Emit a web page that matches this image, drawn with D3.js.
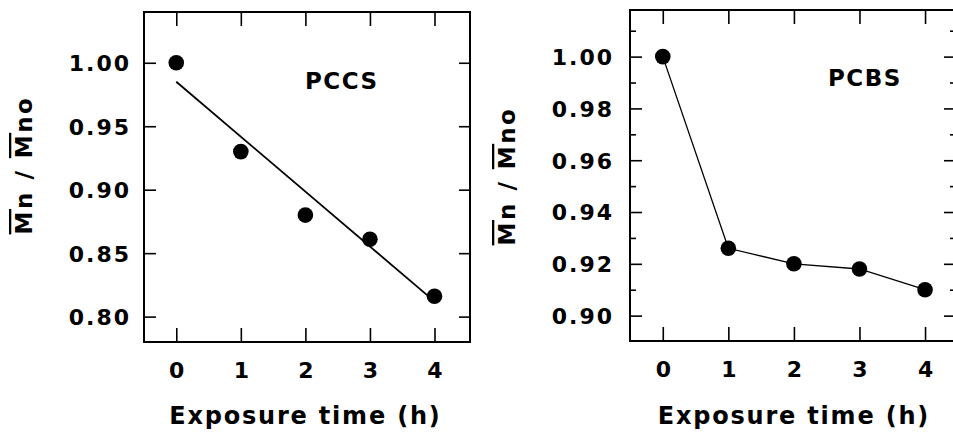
<!DOCTYPE html>
<html>
<head>
    <meta charset="utf-8">
    <title>Mn/Mno vs exposure time</title>
    <script src="https://cdn.jsdelivr.net/npm/d3@7"></script>
    <style>
        body { margin: 0; background: #fff; }
        text { font-family: "DejaVu Sans", sans-serif; font-weight: bold; fill: #000; }
    </style>
</head>
<body>
<svg id="drawingplace" width="953" height="438"></svg>
<script>
    // data
    let hours = [0, 1, 2, 3, 4]
    let pccsValues = [1.000, 0.930, 0.880, 0.861, 0.816]
    let pccsFitHours = [0, 4]
    let pccsFitValues = [0.985, 0.812]
    let pcbsValues = [1.000, 0.926, 0.920, 0.918, 0.910]
    let pccsTicks = [0.80, 0.85, 0.90, 0.95, 1.00]
    let pcbsTicks = [0.90, 0.92, 0.94, 0.96, 0.98, 1.00]
    let pcbsMinorTicks = [0.91, 0.93, 0.95, 0.97, 0.99, 1.01]

    let svg = d3.select("#drawingplace")

    function drawPanel(p) {
        let x = d3.scaleLinear().domain(p.xDomain).range([p.left, p.right])
        let y = d3.scaleLinear().domain(p.yDomain).range([p.bottom, p.top])
        let g = svg.append("g")

        // frame
        g.append("rect")
            .attr("x", p.left).attr("y", p.top)
            .attr("width", p.right - p.left).attr("height", p.bottom - p.top)
            .attr("fill", "none").attr("stroke", "#000").attr("stroke-width", 2)

        // minor y ticks (left and right, pointing in)
        if (p.minor) {
            g.append("g").attr("transform", `translate(${p.left},0)`)
                .call(d3.axisLeft(y).tickValues(p.minor).tickSize(-6).tickFormat(""))
                .call(a => a.select(".domain").remove())
            g.append("g").attr("transform", `translate(${p.right},0)`)
                .call(d3.axisRight(y).tickValues(p.minor).tickSize(-5).tickFormat(""))
                .call(a => a.select(".domain").remove())
        }

        // major y ticks with labels
        g.append("g").attr("class", "yaxis").attr("transform", `translate(${p.left},0)`)
            .call(d3.axisLeft(y).tickValues(p.yTicks).tickSize(-12).tickPadding(p.yPad)
                .tickFormat(d3.format(".2f")))
            .call(a => a.select(".domain").remove())
        g.append("g").attr("transform", `translate(${p.right},0)`)
            .call(d3.axisRight(y).tickValues(p.yTicks).tickSize(-11).tickFormat(""))
            .call(a => a.select(".domain").remove())

        // x ticks bottom with labels, top without
        g.append("g").attr("class", "xaxis").attr("transform", `translate(0,${p.bottom})`)
            .call(d3.axisBottom(x).tickValues(hours).tickSize(-14).tickPadding(20).tickFormat(d3.format("d")))
            .call(a => a.select(".domain").remove())
        g.append("g").attr("transform", `translate(0,${p.top})`)
            .call(d3.axisTop(x).tickValues(hours).tickSize(-14).tickFormat(""))
            .call(a => a.select(".domain").remove())

        g.selectAll(".tick line").attr("stroke", "#000").attr("stroke-width", 1.6)
        g.selectAll(".tick text")
            .attr("font-family", "DejaVu Sans").attr("font-weight", "bold")
            .attr("font-size", 22).attr("fill", "#000")
        g.selectAll(".yaxis .tick text").attr("dy", "0.36em").attr("letter-spacing", 2)

        // lines
        let line = d3.line().x(d => x(d[0])).y(d => y(d[1]))
        g.append("path")
            .datum(p.lineHours.map((h, i) => [h, p.lineValues[i]]))
            .attr("d", line)
            .attr("fill", "none").attr("stroke", "#000").attr("stroke-width", p.lineWidth)

        // markers
        g.selectAll("circle.pt")
            .data(hours.map((h, i) => [h, p.values[i]]))
            .enter().append("circle")
            .attr("class", "pt")
            .attr("cx", d => x(d[0])).attr("cy", d => y(d[1]))
            .attr("r", 7.8).attr("fill", "#000")

        // sample name
        g.append("text")
            .attr("x", p.nameX).attr("y", p.nameY)
            .attr("font-size", 23).attr("letter-spacing", 1.5)
            .text(p.name)

        // x label
        g.append("text")
            .attr("x", (x(0) + x(4)) / 2).attr("y", 424)
            .attr("text-anchor", "middle")
            .attr("font-size", 24).attr("letter-spacing", 1.8)
            .text("Exposure time (h)")

        // y label with overlines
        let yl = g.append("text")
            .attr("transform", `translate(${p.yLabelX},${p.yLabelY}) rotate(-90)`)
            .attr("text-anchor", "middle")
            .attr("font-size", 23).attr("letter-spacing", 2.5)
        yl.append("tspan").attr("text-decoration", "overline").text("M")
        yl.append("tspan").text("n / ")
        yl.append("tspan").attr("text-decoration", "overline").text("M")
        yl.append("tspan").text("no")
    }

    drawPanel({
        left: 144, right: 470, top: 12, bottom: 342,
        xDomain: [-0.5, 4.55], yDomain: [0.78, 1.04],
        yTicks: pccsTicks, minor: null, yPad: 13,
        values: pccsValues, lineHours: pccsFitHours, lineValues: pccsFitValues, lineWidth: 1.8,
        name: "PCCS", nameX: 305, nameY: 89,
        yLabelX: 32, yLabelY: 165
    })

    drawPanel({
        left: 630, right: 955, top: 10, bottom: 341,
        xDomain: [-0.5, 4.457], yDomain: [0.8902, 1.018],
        yTicks: pcbsTicks, minor: pcbsMinorTicks, yPad: 16,
        values: pcbsValues, lineHours: hours, lineValues: pcbsValues, lineWidth: 1.3,
        name: "PCBS", nameX: 828, nameY: 86,
        yLabelX: 515, yLabelY: 176
    })
</script>
</body>
</html>
